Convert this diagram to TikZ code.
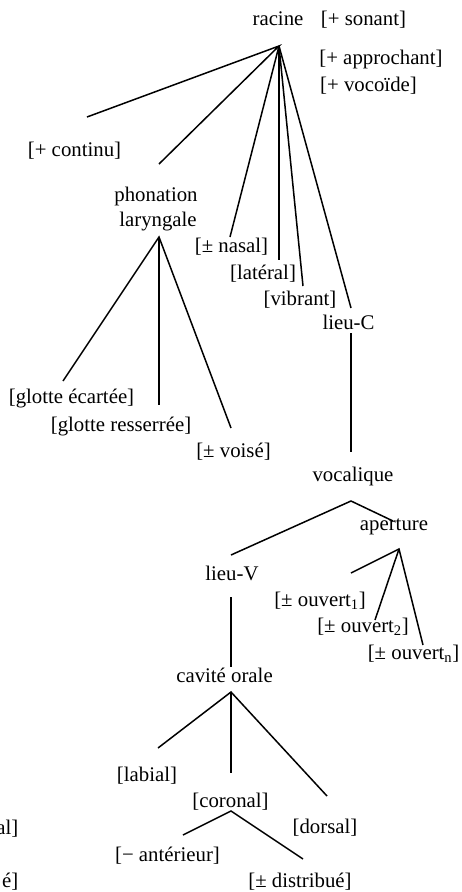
\documentclass[tikz,border=0pt]{standalone}
\usepackage{fontspec}
\setmainfont{Liberation Serif}
\begin{document}
\begin{tikzpicture}[x=1pt,y=-1pt,
  lbl/.style={inner sep=0pt, text height=14pt, text depth=4.5pt,
              font=\fontsize{20.8}{25}\selectfont},
  branch/.style={line width=1.5pt}]
\useasboundingbox (0,0) rectangle (461,892);

% feature labels
\node[lbl] (racine)   at (278,21)    {racine};
\node[lbl] (sonant)   at (363.5,21)  {[+ sonant]};
\node[lbl] (approch)  at (381,60)    {[+ approchant]};
\node[lbl] (vocoide)  at (368.5,87)  {[+ vocoïde]};
\node[lbl] (continu)  at (74.5,152)  {[+ continu]};
\node[lbl] (phon)     at (156,197)   {phonation};
\node[lbl] (laryng)   at (158,222)   {laryngale};
\node[lbl] (nasal)    at (231.5,248) {[± nasal]};
\node[lbl] (lateral)  at (263,275)   {[latéral]};
\node[lbl] (vibrant)  at (300,301)   {[vibrant]};
\node[lbl] (lieuC)    at (348.5,325) {lieu-C};
\node[lbl] (ecartee)  at (71.5,399)  {[glotte écartée]};
\node[lbl] (resserree) at (121,427)  {[glotte resserrée]};
\node[lbl] (voise)    at (233.5,453) {[± voisé]};
\node[lbl] (vocal)    at (353,477)   {vocalique};
\node[lbl] (apert)    at (394,526)   {aperture};
\node[lbl] (lieuV)    at (232,576)   {lieu-V};
\node[lbl] (ouv1)     at (320,602)   {[± ouvert\textsubscript{1}]};
\node[lbl] (ouv2)     at (363,628)   {[± ouvert\textsubscript{2}]};
\node[lbl] (ouvn)     at (413.5,655) {[± ouvert\textsubscript{n}]};
\node[lbl] (cavite)   at (224.5,678) {cavité orale};
\node[lbl] (labial)   at (147,777)   {[labial]};
\node[lbl] (coronal)  at (230.5,803) {[coronal]};
\node[lbl] (dorsal)   at (325,829)   {[dorsal]};
\node[lbl] (anter)    at (167.5,857) {[− antérieur]};
\node[lbl] (distrib)  at (300,882.5) {[± distribué]};
\node[lbl, anchor=east] (cutA) at (18.5,830) {al]};
\node[lbl, anchor=east] (cutB) at (18.5,882.5) {é]};

% branching points and branch ends
\coordinate (r)     at (279,46);
\coordinate (rCont) at (87,117);
\coordinate (rPhon) at (159,164);
\coordinate (rNas)  at (230,237);
\coordinate (rLat)  at (279,260);
\coordinate (rVib)  at (303,286);
\coordinate (rLieu) at (351,308);
\coordinate (cTop)  at (351,333);
\coordinate (cBot)  at (351,452);
\coordinate (p)     at (159,237);
\coordinate (pEc)   at (63,381);
\coordinate (pRes)  at (159,405);
\coordinate (pVoi)  at (231,428);
\coordinate (v)     at (351,501);
\coordinate (vLieu) at (231,555);
\coordinate (vApe)  at (393,521);
\coordinate (a)     at (399,549);
\coordinate (a1)    at (351,573);
\coordinate (a2)    at (375,620);
\coordinate (an)    at (423,645);
\coordinate (lvTop) at (231,597);
\coordinate (lvBot) at (231,667);
\coordinate (o)     at (231,692);
\coordinate (oLab)  at (158,748);
\coordinate (oCor)  at (231,773);
\coordinate (oDor)  at (327,796);
\coordinate (k)     at (231,811);
\coordinate (kAnt)  at (183,835);
\coordinate (kDis)  at (303,859);

% branches
\draw[branch] (rCont) -- (r) -- (rPhon);
\draw[branch] (r) -- (rNas);
\draw[branch] (r) -- (rLat);
\draw[branch] (r) -- (rVib);
\draw[branch] (r) -- (rLieu);
\draw[branch] (cTop) -- (cBot);
\draw[branch] (pEc) -- (p) -- (pVoi);
\draw[branch] (p) -- (pRes);
\draw[branch] (vLieu) -- (v) -- (vApe);
\draw[branch] (a1) -- (a) -- (an);
\draw[branch] (a) -- (a2);
\draw[branch] (lvTop) -- (lvBot);
\draw[branch] (oLab) -- (o) -- (oDor);
\draw[branch] (o) -- (oCor);
\draw[branch] (kAnt) -- (k) -- (kDis);
\end{tikzpicture}
\end{document}
